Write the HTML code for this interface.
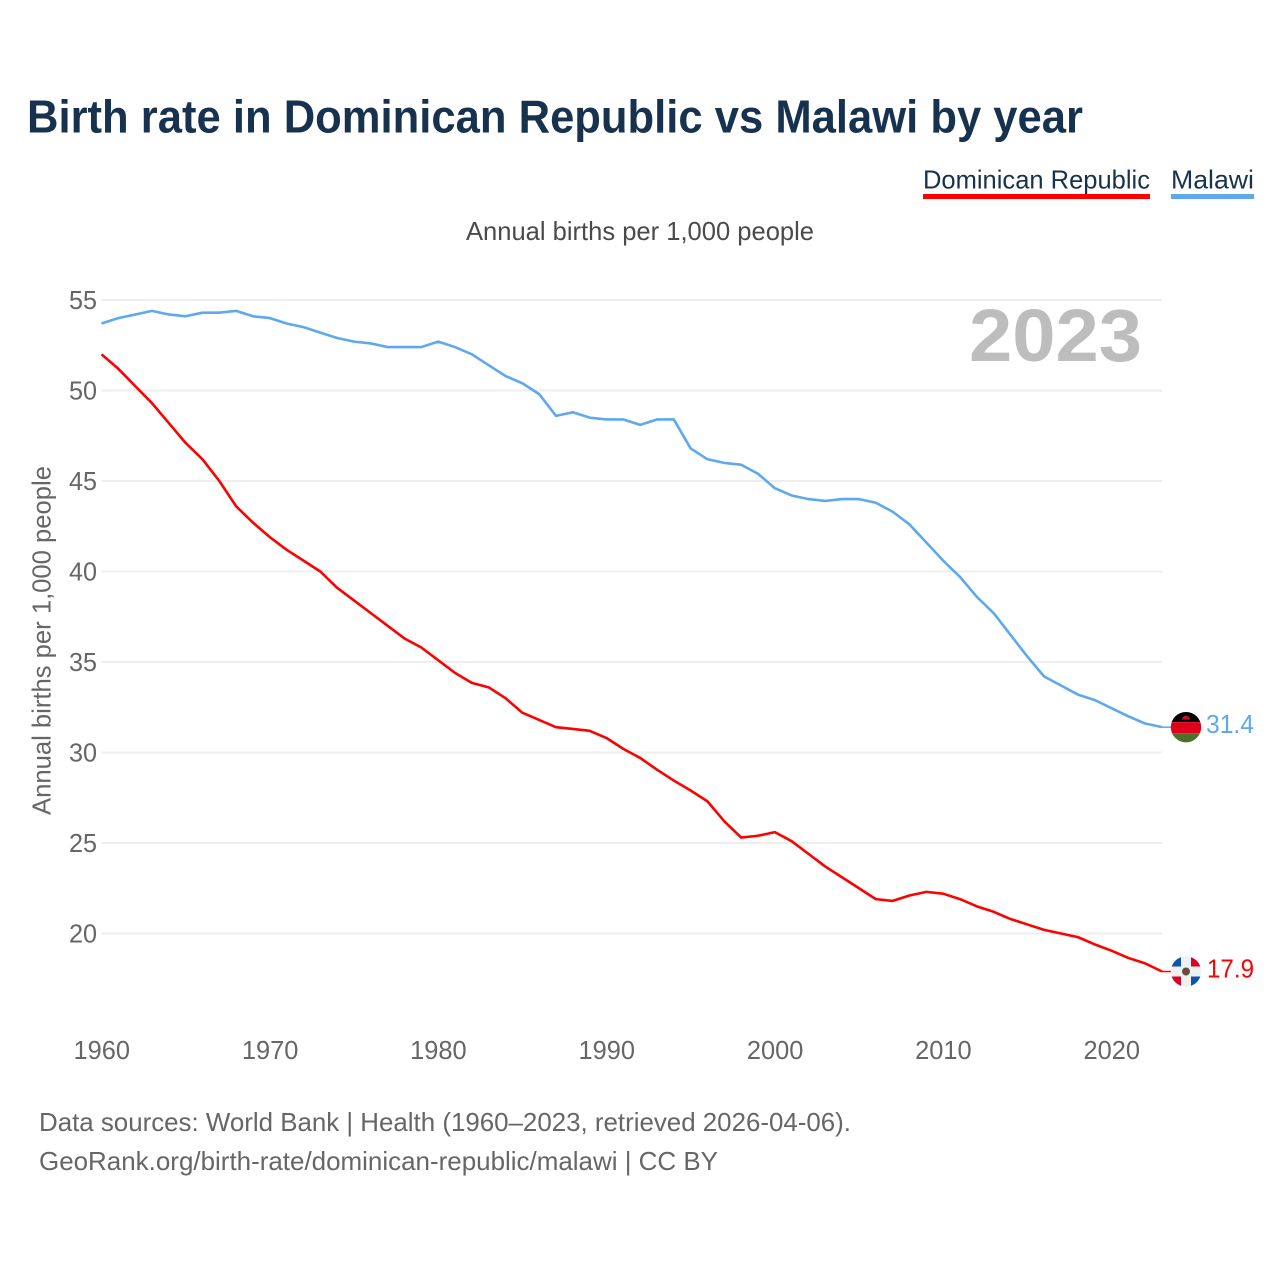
<!DOCTYPE html>
<html lang="en">
<head>
<meta charset="utf-8">
<title>Birth rate in Dominican Republic vs Malawi by year</title>
<style>
  html, body { margin: 0; padding: 0; background: #fff; }
  svg { display: block; font-family: "Liberation Sans", sans-serif; }
</style>
</head>
<body>
<svg id="chart" xmlns="http://www.w3.org/2000/svg" width="1280" height="1280" viewBox="0 0 1280 1280">
  <defs>
    <clipPath id="flag-clip"><circle cx="0" cy="0" r="15.2"></circle></clipPath>
  </defs>
  <rect x="0" y="0" width="1280" height="1280" fill="#ffffff"></rect>
  <text x="27" y="132.5" font-size="46" font-weight="700" fill="#17324f" textLength="1056" lengthAdjust="spacingAndGlyphs">Birth rate in Dominican Republic vs Malawi by year</text>

  <g>
    <g>
      <text x="923" y="188.5" font-size="26" fill="#17324f" textLength="227" lengthAdjust="spacingAndGlyphs">Dominican Republic</text>
      <rect x="923" y="194" width="227" height="5" fill="#ff0000"></rect>
    </g>
    <g>
      <text x="1171" y="188.5" font-size="26" fill="#17324f" textLength="83" lengthAdjust="spacingAndGlyphs">Malawi</text>
      <rect x="1171" y="194" width="83" height="5" fill="#5fa8ee"></rect>
    </g>
  </g>

  <text x="466" y="240" font-size="26" fill="#4a4a4a" textLength="348" lengthAdjust="spacingAndGlyphs">Annual births per 1,000 people</text>

  <g id="grid"></g>
  <g id="y-ticks"></g>
  <g id="x-ticks"></g>

  <text transform="translate(50.5,815) rotate(-90)" x="0" y="0" font-size="26" fill="#666666" textLength="349" lengthAdjust="spacingAndGlyphs">Annual births per 1,000 people</text>

  <text x="969" y="361" font-size="74" font-weight="700" fill="#bdbdbd" textLength="173" lengthAdjust="spacingAndGlyphs">2023</text>

  <g id="series"></g>
  <g id="end-markers"></g>

  <text x="39" y="1131" font-size="26" fill="#666666" textLength="812" lengthAdjust="spacingAndGlyphs">Data sources: World Bank | Health (1960–2023, retrieved 2026-04-06).</text>
  <text x="39" y="1170" font-size="26" fill="#666666" textLength="679" lengthAdjust="spacingAndGlyphs">GeoRank.org/birth-rate/dominican-republic/malawi | CC BY</text>
</svg>

<script>
const firstYear = 1960;
const yTickLabels = [20, 25, 30, 35, 40, 45, 50, 55];
const xTickLabels = [1960, 1970, 1980, 1990, 2000, 2010, 2020];
const dominicanRepublicValues = [
  52.0, 51.2, 50.25, 49.3, 48.2, 47.1, 46.2, 45.0, 43.6, 42.7,
  41.9, 41.2, 40.6, 40.0, 39.1, 38.4, 37.7, 37.0, 36.3, 35.8,
  35.1, 34.4, 33.85, 33.6, 33.0, 32.2, 31.8, 31.4, 31.3, 31.2,
  30.8, 30.2, 29.7, 29.05, 28.45, 27.9, 27.3, 26.2, 25.3, 25.4,
  25.6, 25.1, 24.4, 23.7, 23.1, 22.5, 21.9, 21.8, 22.1, 22.3,
  22.2, 21.9, 21.5, 21.2, 20.8, 20.5, 20.2, 20.0, 19.8, 19.4,
  19.05, 18.65, 18.35, 17.9
];
const malawiValues = [
  53.7, 54.0, 54.2, 54.4, 54.2, 54.1, 54.3, 54.3, 54.4, 54.1,
  54.0, 53.7, 53.5, 53.2, 52.9, 52.7, 52.6, 52.4, 52.4, 52.4,
  52.7, 52.4, 52.0, 51.4, 50.8, 50.4, 49.8, 48.6, 48.8, 48.5,
  48.4, 48.4, 48.1, 48.4, 48.4, 46.8, 46.2, 46.0, 45.9, 45.4,
  44.6, 44.2, 44.0, 43.9, 44.0, 44.0, 43.8, 43.3, 42.6, 41.6,
  40.6, 39.7, 38.6, 37.7, 36.5, 35.3, 34.2, 33.7, 33.2, 32.9,
  32.45, 32.0, 31.6, 31.4
];

const NS = 'http://www.w3.org/2000/svg';
const xScale = function (year) { return 101.5 + (year - 1960) * (1162 - 101.5) / 63; };
const yScale = function (value) { return 300 + (55 - value) * (933.5 - 300) / 35; };

function make(tag, attrs, parent, text) {
  const el = document.createElementNS(NS, tag);
  Object.keys(attrs).forEach(function (k) { el.setAttribute(k, attrs[k]); });
  if (text !== undefined) el.textContent = text;
  parent.appendChild(el);
  return el;
}

const grid = document.getElementById('grid');
const yTicks = document.getElementById('y-ticks');
const xTicks = document.getElementById('x-ticks');
const series = document.getElementById('series');
const markers = document.getElementById('end-markers');

yTickLabels.forEach(function (v) {
  const line = make('line', { x1: 101.5, x2: 1162, y1: yScale(v), y2: yScale(v), stroke: '#eeeeee', 'stroke-width': 2 }, grid);
  
  
  const label = make('text', { x: 69, y: yScale(v) + 9, 'font-size': 26, fill: '#666666', textLength: 28, lengthAdjust: 'spacingAndGlyphs' }, yTicks, String(v));
  
  
});

xTickLabels.forEach(function (yr) {
  const label = make('text', { x: xScale(yr) - 28, y: 1059, 'font-size': 26, fill: '#666666', textLength: 56.5, lengthAdjust: 'spacingAndGlyphs' }, xTicks, String(yr));
  
  
});

function pathFor(values) {
  return values.map(function (v, i) {
    return (i === 0 ? 'M' : 'L') + xScale(firstYear + i).toFixed(2) + ' ' + yScale(v).toFixed(2);
  }).join(' ');
}

const drLine = make('path', { d: pathFor(dominicanRepublicValues), fill: 'none', stroke: '#ff0000', 'stroke-width': 2.6, 'stroke-linejoin': 'round' }, series);



const mwLine = make('path', { d: pathFor(malawiValues), fill: 'none', stroke: '#5fa8ee', 'stroke-width': 2.6, 'stroke-linejoin': 'round' }, series);



const lastIndex = malawiValues.length - 1;
const lastX = xScale(firstYear + lastIndex);
const mwLast = malawiValues[lastIndex];
const drLast = dominicanRepublicValues[lastIndex];

const mwConn = make('line', { x1: lastX, x2: 1172, y1: yScale(mwLast), y2: yScale(mwLast), stroke: '#5fa8ee', 'stroke-width': 1.5 }, markers);


const drConn = make('line', { x1: lastX, x2: 1172, y1: yScale(drLast), y2: yScale(drLast), stroke: '#ff0000', 'stroke-width': 1.5 }, markers);



/* Malawi flag */
const mwFlag = make('g', { transform: 'translate(1186,' + yScale(mwLast) + ')', 'clip-path': 'url(#flag-clip)' }, markers);


make('rect', { x: -16, y: -16, width: 32, height: 11, fill: '#000000' }, mwFlag);
make('rect', { x: -16, y: -5, width: 32, height: 11, fill: '#e0001b' }, mwFlag);
make('rect', { x: -16, y: 6, width: 32, height: 11, fill: '#4a7029' }, mwFlag);
make('path', { d: 'M-4 -7.5 A4 4 0 0 1 4 -7.5 Z', fill: '#c8102e' }, mwFlag);

const mwLabel = make('text', { x: 1206, y: yScale(mwLast) + 6, 'font-size': 26, fill: '#5fa8ee', textLength: 48, lengthAdjust: 'spacingAndGlyphs' }, markers, mwLast.toFixed(1));



/* Dominican Republic flag */
const drFlag = make('g', { transform: 'translate(1186,' + yScale(drLast) + ')', 'clip-path': 'url(#flag-clip)' }, markers);


make('rect', { x: -16, y: -16, width: 32, height: 32, fill: '#f0f0f0' }, drFlag);
make('rect', { x: -16, y: -16, width: 11, height: 11, fill: '#0a56ad' }, drFlag);
make('rect', { x: 5, y: -16, width: 11, height: 11, fill: '#d80027' }, drFlag);
make('rect', { x: -16, y: 5, width: 11, height: 11, fill: '#d80027' }, drFlag);
make('rect', { x: 5, y: 5, width: 11, height: 11, fill: '#0a56ad' }, drFlag);
make('circle', { cx: 0, cy: 0, r: 4, fill: '#2f6b45' }, drFlag);
make('circle', { cx: 0, cy: 0, r: 2.4, fill: '#c0213a' }, drFlag);

const drLabel = make('text', { x: 1207, y: yScale(drLast) + 6, 'font-size': 26, fill: '#ff0000', textLength: 47, lengthAdjust: 'spacingAndGlyphs' }, markers, drLast.toFixed(1));


</script>
</body>
</html>
